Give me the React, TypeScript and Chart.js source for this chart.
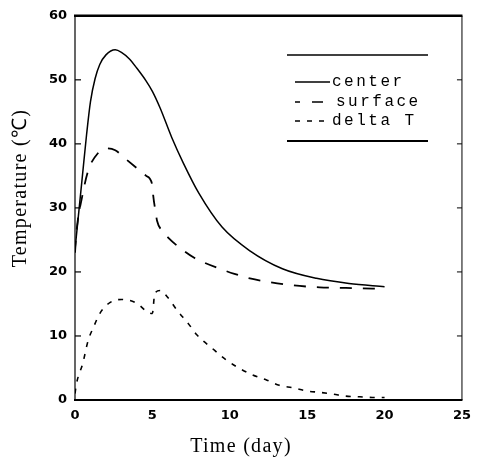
import React, { useEffect, useRef } from "react";
import { Chart, registerables } from "chart.js";

Chart.register(...registerables);

// ---- data ----
const seriesLabels = ["center", "surface", "delta T"];
const xTitle = "Time (day)";
const yTitle = "Temperature (℃)";

const centerDays = [0, 0.25, 0.5, 0.75, 1.0, 1.3, 1.6, 2.0, 2.6, 3.0, 3.5, 4.0, 4.6, 5.0, 5.5, 6.25, 7.0, 8.0, 9.5, 11.3, 13.4, 15.6, 17.7, 20];
const centerTemp = [23.5, 29.5, 35.5, 41.5, 46.6, 50.2, 52.4, 53.9, 54.7, 54.3, 53.3, 51.8, 49.8, 48.2, 45.6, 41.0, 37.0, 32.3, 27.0, 23.3, 20.5, 19.0, 18.2, 17.7];

const surfaceDays = [0, 0.1, 0.45, 0.85, 1.5, 2.05, 2.6, 3.2, 4.0, 4.6, 5.0, 5.05, 5.2, 5.3, 5.6, 6.0, 6.6, 7.7, 8.3, 9.35, 10.3, 11.3, 12.6, 14.1, 15.8, 17.5, 19.2, 20];
const surfaceTemp = [23.0, 26.4, 31.6, 35.8, 38.6, 39.3, 39.0, 37.8, 36.2, 35.0, 33.5, 32.0, 29.5, 28.0, 26.5, 25.4, 24.1, 22.2, 21.5, 20.5, 19.7, 19.0, 18.4, 17.9, 17.6, 17.5, 17.4, 17.4];

const deltaDays = [0, 0.1, 0.5, 0.85, 1.2, 1.6, 2.25, 3.0, 4.0, 4.7, 5.0, 5.15, 5.5, 6.0, 6.6, 7.3, 7.9, 8.85, 9.7, 10.5, 11.4, 12.4, 13.2, 14.1, 15.0, 15.8, 16.7, 17.5, 18.4, 19.2, 20];
const deltaTemp = [1.0, 2.6, 5.7, 9.3, 11.4, 13.5, 15.2, 15.7, 15.1, 13.7, 13.5, 16.6, 17.1, 16.0, 14.0, 12.0, 10.1, 8.1, 6.4, 5.1, 4.0, 3.1, 2.3, 1.9, 1.4, 1.2, 0.9, 0.6, 0.5, 0.4, 0.4];

const toPoints = (xs: number[], ys: number[]) => xs.map((x, i) => ({ x, y: ys[i] }));

const decorPlugin = {
  id: "decor",
  afterDraw(chart: any) {
    const { ctx, chartArea: a, scales } = chart;
    const ys = scales.y;
    ctx.save();
    ctx.strokeStyle = "#000";
    ctx.fillStyle = "#000";
    const seg = (x1: number, y1: number, x2: number, y2: number, w: number) => {
      ctx.lineWidth = w;
      ctx.beginPath();
      ctx.moveTo(x1, y1);
      ctx.lineTo(x2, y2);
      ctx.stroke();
    };
    // frame
    seg(a.left - 1, a.top, a.right + 0.5, a.top, 2.5);
    seg(a.left - 1, a.bottom, a.right + 0.5, a.bottom, 2.2);
    seg(a.left, a.top, a.left, a.bottom, 1.2);
    seg(a.right, a.top, a.right, a.bottom, 1);
    // inward tick marks on left and right
    for (let v = 10; v <= 50; v += 10) {
      const py = ys.getPixelForValue(v);
      seg(a.left, py, a.left + 6, py, 1.2);
      seg(a.right, py, a.right - 5, py, 1);
    }
    // legend
    const lx1 = 287, lx2 = 428;
    seg(lx1, 55, lx2, 55, 1.5);
    seg(lx1, 141, lx2, 141, 1.8);
    const rows = [82, 102, 121];
    chart.data.datasets.forEach((ds: any, i: number) => {
      const y = rows[i];
      ctx.save();
      ctx.lineWidth = 1.3;
      ctx.setLineDash(i === 1 ? [5, 12, 11, 20] : ds.borderDash || []);
      ctx.beginPath();
      ctx.moveTo(295, y);
      ctx.lineTo(330, y);
      ctx.stroke();
      ctx.restore();
      ctx.font = '16px "Liberation Mono"';
      (ctx as any).letterSpacing = "2.5px";
      ctx.textAlign = "left";
      ctx.textBaseline = "middle";
      ctx.fillText(ds.label, i === 1 ? 336 : 332, y);
      (ctx as any).letterSpacing = "0px";
    });
    // axis titles
    ctx.font = '20px "Liberation Serif"';
    (ctx as any).letterSpacing = "1.3px";
    ctx.textAlign = "center";
    ctx.textBaseline = "middle";
    ctx.fillText(xTitle, 241, 447);
    ctx.save();
    ctx.translate(21, 188);
    ctx.rotate(-Math.PI / 2);
    ctx.fillText(yTitle, 0, 0);
    ctx.restore();
    (ctx as any).letterSpacing = "0px";
    ctx.restore();
  },
};

export default function App() {
  const ref = useRef<HTMLCanvasElement | null>(null);
  useEffect(() => {
    document.body.style.margin = "0";
    const tickFont = { family: '"DejaVu Sans"', size: 13, weight: "bold" as const };
    const chart = new Chart(ref.current as HTMLCanvasElement, {
      type: "line",
      data: {
        datasets: [
          {
            label: seriesLabels[0],
            data: toPoints(centerDays, centerTemp),
            borderColor: "#000",
            borderWidth: 1.5,
            pointRadius: 0,
            cubicInterpolationMode: "monotone",
          },
          {
            label: seriesLabels[1],
            data: toPoints(surfaceDays, surfaceTemp),
            borderColor: "#000",
            borderWidth: 1.8,
            borderDash: [12, 11],
            pointRadius: 0,
            cubicInterpolationMode: "monotone",
          },
          {
            label: seriesLabels[2],
            data: toPoints(deltaDays, deltaTemp),
            borderColor: "#000",
            borderWidth: 1.6,
            borderDash: [5, 7],
            pointRadius: 0,
            cubicInterpolationMode: "monotone",
          },
        ],
      },
      options: {
        animation: false,
        responsive: false,
        layout: { padding: { top: 14, right: 17, left: 0, bottom: 0 } },
        plugins: { legend: { display: false }, tooltip: { enabled: false } },
        scales: {
          x: {
            type: "linear",
            min: 0,
            max: 25,
            ticks: { stepSize: 5, font: tickFont, color: "#000", padding: 8, maxRotation: 0 },
            grid: { display: false, drawTicks: false },
            border: { display: false },
            afterFit: (s: any) => {
              s.height = 63;
            },
          },
          y: {
            type: "linear",
            min: 0,
            max: 60,
            ticks: { stepSize: 10, font: tickFont, color: "#000", padding: 8 },
            grid: { display: false, drawTicks: false },
            border: { display: false },
            afterFit: (s: any) => {
              s.width = 75;
            },
          },
        },
      },
      plugins: [decorPlugin],
    });
    return () => chart.destroy();
  }, []);
  return (
    <div style={{ position: "fixed", left: 0, top: 0, width: 479, height: 463, background: "#fff" }}>
      <canvas ref={ref} width={479} height={463} />
    </div>
  );
}
